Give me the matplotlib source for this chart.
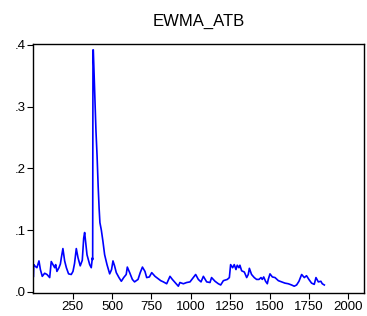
import matplotlib
matplotlib.use("Agg")
import matplotlib.pyplot as plt

plt.rcParams['font.family'] = ['Liberation Sans', 'DejaVu Sans']

title = "EWMA_ATB"
obs = [1, 3, 9, 23, 36, 45, 57, 72, 87, 104, 114, 125, 136, 142, 150, 163, 172, 178,
       188, 199, 210, 224, 241, 252, 262, 273, 284, 298, 311, 320, 326, 332, 341, 358,
       368, 375, 377, 379, 381, 390, 398, 405, 412, 418, 423, 432, 442, 453, 468, 485,
       497, 506, 516, 527, 544, 559, 574, 590, 597, 612, 629, 643, 665, 679, 693, 709,
       720, 737, 752, 773, 794, 809, 826, 847, 868, 883, 900, 921, 931, 953, 974, 995,
       1016, 1031, 1048, 1065, 1080, 1101, 1122, 1132, 1154, 1175, 1190, 1207, 1232,
       1245, 1253, 1266, 1276, 1287, 1295, 1306, 1312, 1323, 1340, 1355, 1365, 1372,
       1386, 1403, 1418, 1433, 1446, 1454, 1463, 1475, 1486, 1492, 1503, 1518, 1535,
       1556, 1577, 1598, 1619, 1640, 1657, 1672, 1687, 1704, 1721, 1735, 1750, 1767,
       1784, 1795, 1810, 1826, 1835, 1848]
ewma = [0.025, 0.044, 0.042, 0.039, 0.050, 0.036, 0.025, 0.030, 0.028, 0.023, 0.049,
        0.044, 0.039, 0.044, 0.033, 0.039, 0.045, 0.055, 0.070, 0.050, 0.039, 0.029,
        0.028, 0.033, 0.046, 0.070, 0.055, 0.042, 0.051, 0.087, 0.096, 0.082, 0.060,
        0.044, 0.039, 0.055, 0.052, 0.392, 0.392, 0.32, 0.26, 0.22, 0.17, 0.135, 0.112,
        0.100, 0.082, 0.060, 0.044, 0.029, 0.036, 0.050, 0.042, 0.031, 0.023, 0.017,
        0.023, 0.028, 0.040, 0.031, 0.020, 0.016, 0.020, 0.031, 0.040, 0.033, 0.023,
        0.024, 0.031, 0.025, 0.021, 0.018, 0.016, 0.013, 0.025, 0.020, 0.015, 0.009,
        0.015, 0.013, 0.015, 0.016, 0.023, 0.028, 0.020, 0.016, 0.025, 0.016, 0.015,
        0.023, 0.017, 0.013, 0.011, 0.018, 0.020, 0.023, 0.044, 0.039, 0.044, 0.036,
        0.043, 0.039, 0.043, 0.034, 0.032, 0.023, 0.028, 0.038, 0.028, 0.023, 0.020,
        0.020, 0.023, 0.020, 0.024, 0.017, 0.013, 0.020, 0.029, 0.024, 0.023, 0.018,
        0.016, 0.014, 0.013, 0.011, 0.009, 0.011, 0.017, 0.028, 0.023, 0.026, 0.020,
        0.014, 0.012, 0.023, 0.016, 0.017, 0.013, 0.011]
x_ticks = [250, 500, 750, 1000, 1250, 1500, 1750, 2000]
y_ticks = [0.0, 0.1, 0.2, 0.3, 0.4]
y_labels = [".0", ".1", ".2", ".3", ".4"]

fig = plt.figure(figsize=(3.67, 3.16), dpi=100)
ax = fig.add_axes([33.3 / 367, 1 - 293.0 / 316, (364 - 33.3) / 367, (293.0 - 44.3) / 316])
ax.plot(obs, ewma, color="#0000ff", linewidth=1.2)
ax.set_xlim(0, 2100)
ax.set_ylim(-0.002, 0.401)
ax.set_xticks(x_ticks)
ax.set_xticklabels([str(t) for t in x_ticks])
ax.set_yticks(y_ticks)
ax.set_yticklabels(y_labels)
ax.tick_params(direction="out", length=4, width=0.8, labelsize=9.5, colors="black")
ax.tick_params(axis="x", pad=1.5)
ax.tick_params(axis="y", pad=1.5)
ax.tick_params(top=False, right=False)
for s in ax.spines.values():
    s.set_linewidth(1.0)
    s.set_color("black")
ax.set_title(title, fontsize=12, pad=13)
fig.savefig("out.png", dpi=100)
